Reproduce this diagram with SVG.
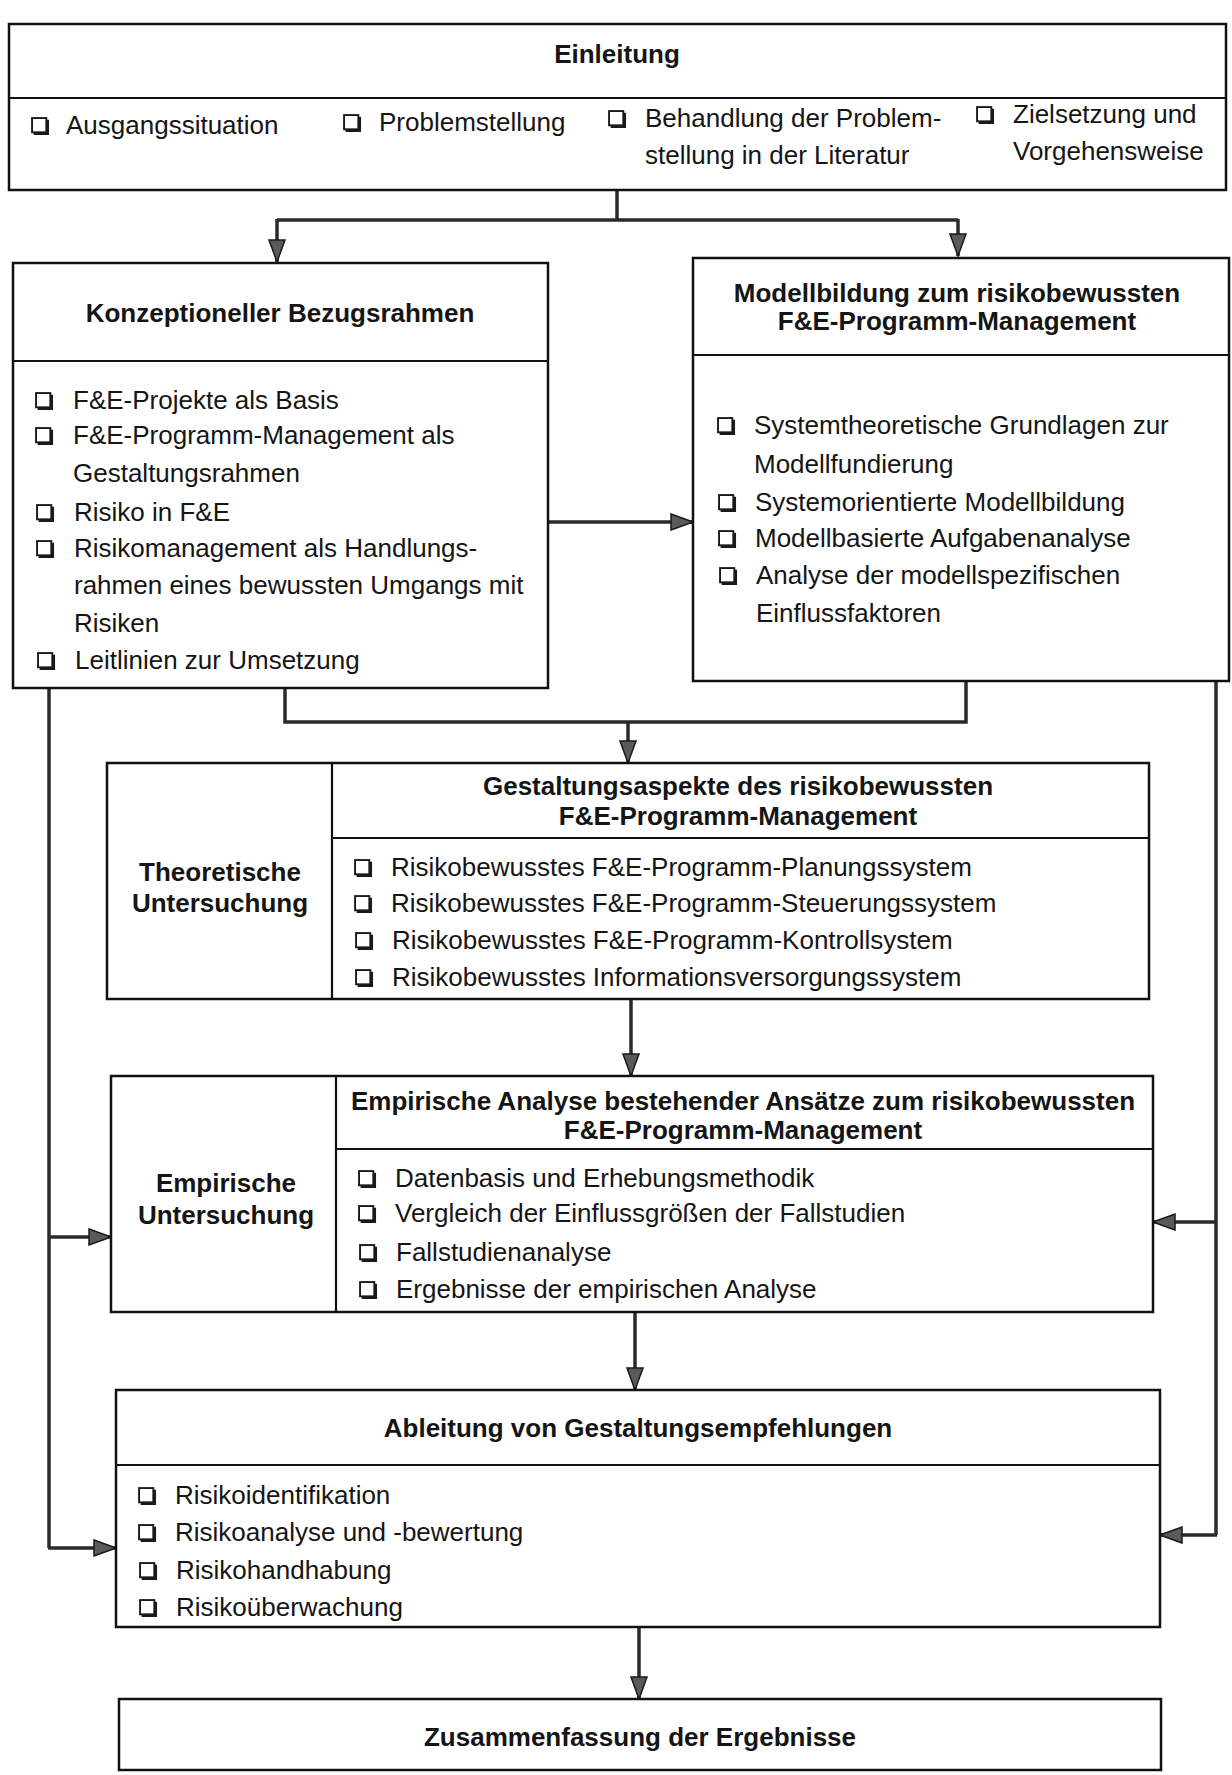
<svg xmlns="http://www.w3.org/2000/svg" xmlns:xlink="http://www.w3.org/1999/xlink" width="1232" height="1775" viewBox="0 0 1232 1775">
<style>
.box{fill:#fff;stroke:#111;stroke-width:2.5}
.div{stroke:#111;stroke-width:2.2;fill:none}
.t{font-family:"Liberation Sans",Arial,sans-serif;font-size:26px;fill:#151515}
.h{font-family:"Liberation Sans",Arial,sans-serif;font-size:26px;font-weight:bold;fill:#151515;text-anchor:middle}
.c{fill:none;stroke:#2a2a2a;stroke-width:3.5}
.ca{fill:none;stroke:#2a2a2a;stroke-width:3.5;marker-end:url(#ah)}
</style>
<defs>
<marker id="ah" markerUnits="userSpaceOnUse" markerWidth="24" markerHeight="18" viewBox="0 0 24 18" refX="23" refY="9" orient="auto">
<path d="M1,1 L23,9 L1,17 Z" fill="#5a5a5a" stroke="#1a1a1a" stroke-width="1.5"/>
</marker>
<symbol id="cb" viewBox="0 0 18 18">
<rect x="1" y="1" width="13.5" height="13.5" fill="#fff" stroke="#1a1a1a" stroke-width="1.8"/>
<path d="M2.5,16 H16 V2.5" fill="none" stroke="#1a1a1a" stroke-width="2.2"/>
</symbol>
</defs>

<g id="connectors">
<path class="c" d="M617,190 V220 M277,220 H958"/>
<path class="ca" d="M277,219 V262"/>
<path class="ca" d="M958,219 V256"/>
<path class="ca" d="M548,522 H693"/>
<path class="c" d="M285,688 V722 H966 V681"/>
<path class="ca" d="M628,722 V763"/>
<path class="ca" d="M631,999 V1076"/>
<path class="ca" d="M635,1312 V1390"/>
<path class="ca" d="M639,1627 V1699"/>
<path class="c" d="M49,688 V1548"/>
<path class="ca" d="M48,1237 H111"/>
<path class="ca" d="M48,1548 H116"/>
<path class="c" d="M1216,681 V1535"/>
<path class="ca" d="M1217,1222 H1153"/>
<path class="ca" d="M1217,1535 H1160"/>
</g>

<g id="einleitung">
<rect class="box" x="9" y="24" width="1217" height="166"/>
<line class="div" x1="9" y1="98" x2="1226" y2="98"/>
<text class="h" x="617" y="63">Einleitung</text>
<use xlink:href="#cb" x="31" y="117" width="19" height="19"/>
<text class="t" x="66" y="134">Ausgangssituation</text>
<use xlink:href="#cb" x="343" y="114" width="19" height="19"/>
<text class="t" x="379" y="131">Problemstellung</text>
<use xlink:href="#cb" x="608" y="110" width="19" height="19"/>
<text class="t" x="645" y="127">Behandlung der Problem-</text>
<text class="t" x="645" y="164">stellung in der Literatur</text>
<use xlink:href="#cb" x="976" y="106" width="19" height="19"/>
<text class="t" x="1013" y="123">Zielsetzung und</text>
<text class="t" x="1013" y="160">Vorgehensweise</text>
</g>

<g id="konzept">
<rect class="box" x="13" y="263" width="535" height="425"/>
<line class="div" x1="13" y1="361" x2="548" y2="361"/>
<text class="h" x="280" y="322">Konzeptioneller Bezugsrahmen</text>
<use xlink:href="#cb" x="35" y="392" width="19" height="19"/>
<text class="t" x="73" y="409">F&amp;E-Projekte als Basis</text>
<use xlink:href="#cb" x="35" y="427" width="19" height="19"/>
<text class="t" x="73" y="444">F&amp;E-Programm-Management als</text>
<text class="t" x="73" y="482">Gestaltungsrahmen</text>
<use xlink:href="#cb" x="36" y="504" width="19" height="19"/>
<text class="t" x="74" y="521">Risiko in F&amp;E</text>
<use xlink:href="#cb" x="36" y="540" width="19" height="19"/>
<text class="t" x="74" y="557">Risikomanagement als Handlungs-</text>
<text class="t" x="74" y="594">rahmen eines bewussten Umgangs mit</text>
<text class="t" x="74" y="632">Risiken</text>
<use xlink:href="#cb" x="37" y="652" width="19" height="19"/>
<text class="t" x="75" y="669">Leitlinien zur Umsetzung</text>
</g>

<g id="modell">
<rect class="box" x="693" y="258" width="536" height="423"/>
<line class="div" x1="693" y1="355" x2="1229" y2="355"/>
<text class="h" x="957" y="302">Modellbildung zum risikobewussten</text>
<text class="h" x="957" y="330">F&amp;E-Programm-Management</text>
<use xlink:href="#cb" x="717" y="417" width="19" height="19"/>
<text class="t" x="754" y="434">Systemtheoretische Grundlagen zur</text>
<text class="t" x="754" y="473">Modellfundierung</text>
<use xlink:href="#cb" x="718" y="494" width="19" height="19"/>
<text class="t" x="755" y="511">Systemorientierte Modellbildung</text>
<use xlink:href="#cb" x="718" y="530" width="19" height="19"/>
<text class="t" x="755" y="547">Modellbasierte Aufgabenanalyse</text>
<use xlink:href="#cb" x="719" y="567" width="19" height="19"/>
<text class="t" x="756" y="584">Analyse der modellspezifischen</text>
<text class="t" x="756" y="622">Einflussfaktoren</text>
</g>

<g id="gestaltung">
<rect class="box" x="107" y="763" width="1042" height="236"/>
<line class="div" x1="332" y1="763" x2="332" y2="999"/>
<line class="div" x1="332" y1="838" x2="1149" y2="838"/>
<text class="h" x="220" y="881">Theoretische</text>
<text class="h" x="220" y="912">Untersuchung</text>
<text class="h" x="738" y="795">Gestaltungsaspekte des risikobewussten</text>
<text class="h" x="738" y="825">F&amp;E-Programm-Management</text>
<use xlink:href="#cb" x="354" y="859" width="19" height="19"/>
<text class="t" x="391" y="876">Risikobewusstes F&amp;E-Programm-Planungssystem</text>
<use xlink:href="#cb" x="354" y="895" width="19" height="19"/>
<text class="t" x="391" y="912">Risikobewusstes F&amp;E-Programm-Steuerungssystem</text>
<use xlink:href="#cb" x="355" y="932" width="19" height="19"/>
<text class="t" x="392" y="949">Risikobewusstes F&amp;E-Programm-Kontrollsystem</text>
<use xlink:href="#cb" x="355" y="969" width="19" height="19"/>
<text class="t" x="392" y="986">Risikobewusstes Informationsversorgungssystem</text>
</g>

<g id="empirisch">
<rect class="box" x="111" y="1076" width="1042" height="236"/>
<line class="div" x1="336" y1="1076" x2="336" y2="1312"/>
<line class="div" x1="336" y1="1149" x2="1153" y2="1149"/>
<text class="h" x="226" y="1192">Empirische</text>
<text class="h" x="226" y="1224">Untersuchung</text>
<text class="h" x="743" y="1110">Empirische Analyse bestehender Ansätze zum risikobewussten</text>
<text class="h" x="743" y="1139">F&amp;E-Programm-Management</text>
<use xlink:href="#cb" x="358" y="1170" width="19" height="19"/>
<text class="t" x="395" y="1187">Datenbasis und Erhebungsmethodik</text>
<use xlink:href="#cb" x="358" y="1205" width="19" height="19"/>
<text class="t" x="395" y="1222">Vergleich der Einflussgrößen der Fallstudien</text>
<use xlink:href="#cb" x="359" y="1244" width="19" height="19"/>
<text class="t" x="396" y="1261">Fallstudienanalyse</text>
<use xlink:href="#cb" x="359" y="1281" width="19" height="19"/>
<text class="t" x="396" y="1298">Ergebnisse der empirischen Analyse</text>
</g>

<g id="ableitung">
<rect class="box" x="116" y="1390" width="1044" height="237"/>
<line class="div" x1="116" y1="1465" x2="1160" y2="1465"/>
<text class="h" x="638" y="1437">Ableitung von Gestaltungsempfehlungen</text>
<use xlink:href="#cb" x="138" y="1487" width="19" height="19"/>
<text class="t" x="175" y="1504">Risikoidentifikation</text>
<use xlink:href="#cb" x="138" y="1524" width="19" height="19"/>
<text class="t" x="175" y="1541">Risikoanalyse und -bewertung</text>
<use xlink:href="#cb" x="139" y="1562" width="19" height="19"/>
<text class="t" x="176" y="1579">Risikohandhabung</text>
<use xlink:href="#cb" x="139" y="1599" width="19" height="19"/>
<text class="t" x="176" y="1616">Risikoüberwachung</text>
</g>

<g id="zusammenfassung">
<rect class="box" x="119" y="1699" width="1042" height="71"/>
<text class="h" x="640" y="1746">Zusammenfassung der Ergebnisse</text>
</g>
</svg>
